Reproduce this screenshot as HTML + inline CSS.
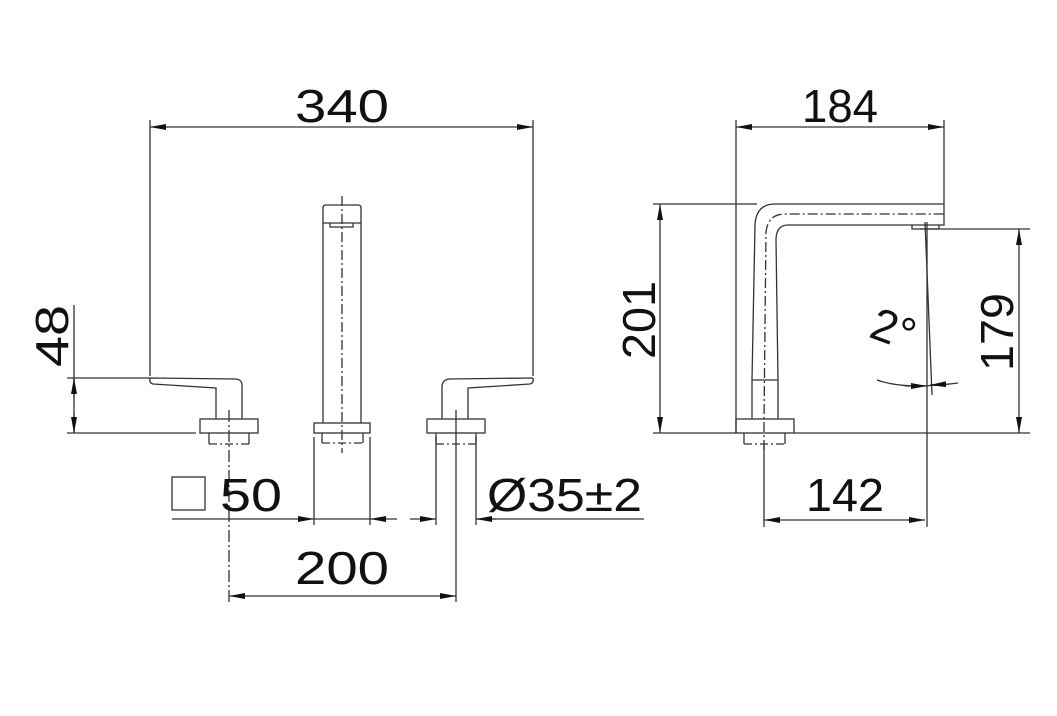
<!DOCTYPE html>
<html><head><meta charset="utf-8"><style>
html,body{margin:0;padding:0;background:#fff;}
svg{display:block;}
text{font-family:"Liberation Sans",sans-serif;font-size:46px;fill:#111;}
</style></head><body>
<svg width="1057" height="716" viewBox="0 0 1057 716" xmlns="http://www.w3.org/2000/svg">
<defs>
<marker id="a" viewBox="0 0 16 6" refX="16" refY="3" markerWidth="16" markerHeight="6" orient="auto-start-reverse" markerUnits="userSpaceOnUse"><path d="M0,0 L16,3 L0,6 Z" fill="#111"/></marker>
</defs>
<g stroke="#333" stroke-width="1.3" fill="none">
<!-- 340 -->
<line x1="150" y1="127" x2="533" y2="127" marker-start="url(#a)" marker-end="url(#a)"/>
<line x1="150" y1="120" x2="150" y2="376"/>
<line x1="533" y1="120" x2="533" y2="376"/>
<!-- spout front -->
<path d="M323,223 L323,208 Q323,205 326,205 L358,205 Q361,205 361,208 L361,223 Z"/>
<path d="M330,223 L330,227 L353,227 L353,223"/>
<line x1="323" y1="223" x2="323" y2="423"/>
<line x1="361" y1="223" x2="361" y2="423"/>
<rect x="314" y="423" width="56" height="10"/>
<path d="M322,433 L322,443 M363,433 L363,443"/>
<path d="M322,443 L363,443" stroke-dasharray="8,3,2,3"/>
<line x1="342" y1="196" x2="342" y2="453" stroke-dasharray="10,3,2,3"/>
<!-- left handle -->
<path d="M150,378 Q149,383 153,384 L216,388 L216,419 M150,378 L236,379 Q243,380 242,387 L242,419"/>
<rect x="200" y="419" width="58" height="14"/>
<path d="M209,433 L209,444 M249,433 L249,444"/>
<path d="M209,444 L249,444" stroke-dasharray="8,3,2,3"/>
<line x1="229" y1="410" x2="229" y2="605" stroke-dasharray="12,3,2,3"/>
<!-- right handle -->
<path d="M533,378 Q534,383 530,384 L468,388 L468,419 M533,378 L449,379 Q442,380 442,387 L442,419"/>
<rect x="427" y="419" width="58" height="14"/>
<path d="M436,433 L436,444 M476,433 L476,444"/>
<path d="M436,444 L476,444" stroke-dasharray="8,3,2,3"/>
<line x1="456" y1="410" x2="456" y2="602"/>
<!-- 48 -->
<line x1="74" y1="305" x2="74" y2="433"/>
<line x1="74" y1="378" x2="74" y2="398" marker-start="url(#a)"/>
<line x1="74" y1="413" x2="74" y2="433" marker-end="url(#a)"/>
<line x1="67" y1="378" x2="150" y2="378"/>
<line x1="67" y1="433" x2="196" y2="433"/>
<!-- 50 -->
<rect x="172" y="477" width="33" height="33"/>
<line x1="314" y1="437" x2="314" y2="525"/>
<line x1="370" y1="437" x2="370" y2="525"/>
<line x1="172" y1="519" x2="314" y2="519" marker-end="url(#a)"/>
<line x1="397" y1="519" x2="370" y2="519" marker-end="url(#a)"/>
<line x1="314" y1="519" x2="370" y2="519"/>
<!-- 35 -->
<line x1="436" y1="437" x2="436" y2="525"/>
<line x1="476" y1="437" x2="476" y2="525"/>
<line x1="410" y1="519" x2="436" y2="519" marker-end="url(#a)"/>
<line x1="644" y1="519" x2="476" y2="519"/>
<line x1="496" y1="519" x2="476" y2="519" marker-end="url(#a)"/>
<!-- 200 -->
<line x1="229" y1="596" x2="456" y2="596" marker-start="url(#a)" marker-end="url(#a)"/>
<!-- right view -->
<line x1="736" y1="127" x2="944" y2="127" marker-start="url(#a)" marker-end="url(#a)"/>
<line x1="736" y1="120" x2="736" y2="433"/>
<line x1="944" y1="120" x2="944" y2="204"/>
<line x1="660" y1="204" x2="660" y2="433" marker-start="url(#a)" marker-end="url(#a)"/>
<line x1="653" y1="204" x2="757" y2="204"/>
<line x1="653" y1="433" x2="736" y2="433"/>
<line x1="794" y1="433" x2="1030" y2="433"/>
<path d="M752,419 L752,380 L755,225 Q756,204 775,204 L944,204 L944,225 L787,225 Q776,226 776,240 L778,380 L778,419"/>
<line x1="752" y1="380" x2="778" y2="380"/>
<path d="M912,225 L912,229 L939,229 L939,225"/>
<rect x="736" y="419" width="58" height="14"/>
<path d="M744,433 L744,444 M785,433 L785,444"/>
<path d="M744,444 L785,444" stroke-dasharray="8,3,2,3"/>
<path d="M764,450 L764,420 L766,232 Q768,214 785,214 L944,214" stroke-dasharray="10,3,2,3"/>
<line x1="764" y1="444" x2="764" y2="527"/>
<line x1="1019" y1="229" x2="1019" y2="433" marker-start="url(#a)" marker-end="url(#a)"/>
<line x1="920" y1="229" x2="1030" y2="229"/>
<line x1="927" y1="222" x2="927" y2="527"/>
<line x1="925" y1="222" x2="932" y2="395"/>
<path d="M877,380 Q905,390 958,383"/>
<line x1="905" y1="386" x2="927" y2="386" marker-end="url(#a)"/>
<line x1="950" y1="384" x2="930" y2="385" marker-end="url(#a)"/>
<line x1="764" y1="520" x2="925" y2="520" marker-start="url(#a)" marker-end="url(#a)"/>
</g>
<text x="342" y="122" text-anchor="middle" textLength="94" lengthAdjust="spacingAndGlyphs">340</text>
<text x="840" y="122" text-anchor="middle" textLength="76" lengthAdjust="spacingAndGlyphs">184</text>
<text transform="translate(68,336) rotate(-90)" text-anchor="middle" textLength="62" lengthAdjust="spacingAndGlyphs">48</text>
<text transform="translate(655,320) rotate(-90)" text-anchor="middle" textLength="78" lengthAdjust="spacingAndGlyphs">201</text>
<text transform="translate(1013,332) rotate(-90)" text-anchor="middle" textLength="78" lengthAdjust="spacingAndGlyphs">179</text>
<text x="220" y="511" textLength="62" lengthAdjust="spacingAndGlyphs">50</text>
<text x="487" y="511" textLength="155" lengthAdjust="spacingAndGlyphs">Ø35±2</text>
<text x="342" y="584" text-anchor="middle" textLength="94" lengthAdjust="spacingAndGlyphs">200</text>
<text x="845" y="511" text-anchor="middle" textLength="78" lengthAdjust="spacingAndGlyphs">142</text>
<text transform="translate(888,344) rotate(20)" text-anchor="middle">2°</text>
</svg>
</body></html>
